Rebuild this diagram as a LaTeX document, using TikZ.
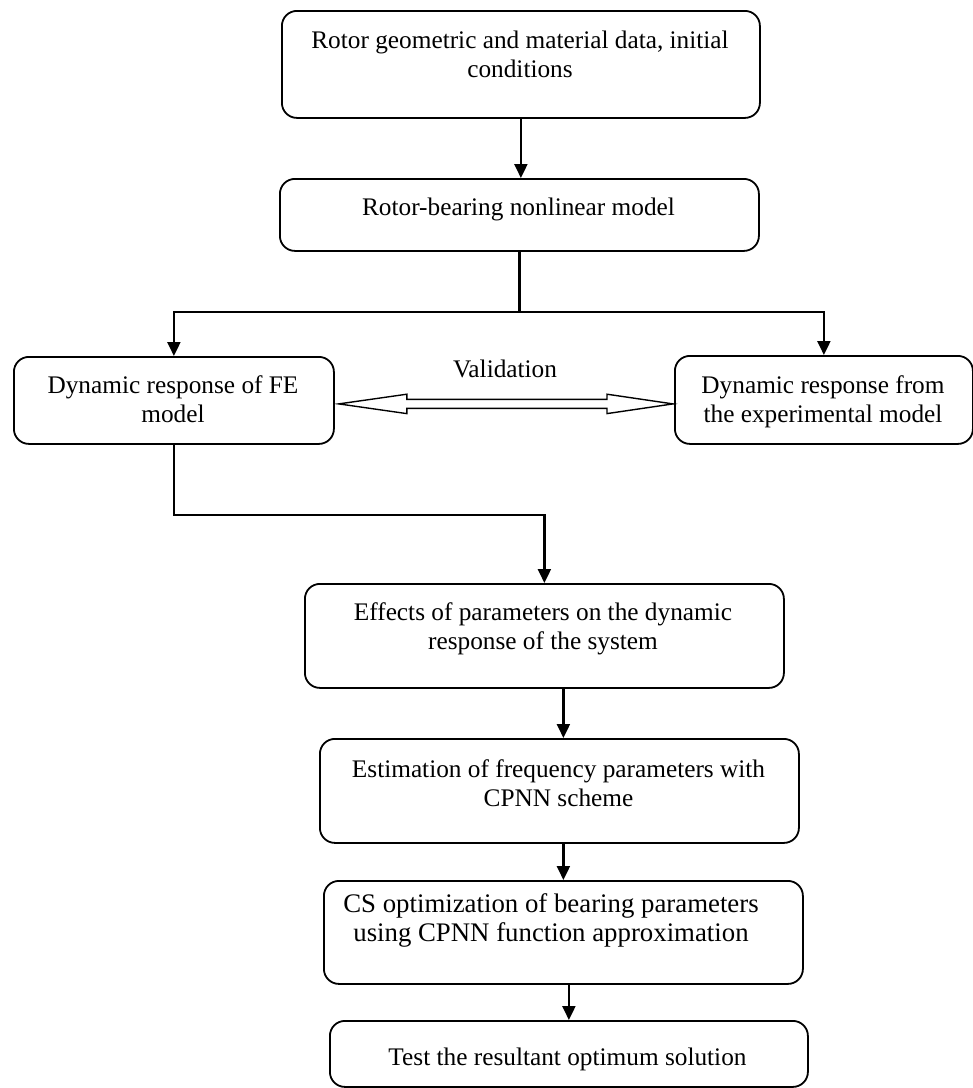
\documentclass[tikz,border=0pt]{standalone}
\usepackage{fontspec}
\setmainfont{Liberation Serif}
\usetikzlibrary{arrows.meta,calc}
\begin{document}
\begin{tikzpicture}[x=1pt,y=-1pt,
  box/.style={draw, line width=1.8pt, rounded corners=15pt, anchor=north west, inner sep=0pt},
  txt/.style={font=\fontsize{25.3}{29.5}\selectfont, align=center, inner sep=0pt, anchor=base},
  bigtxt/.style={txt, font=\fontsize{26.8}{29}\selectfont},
  arr/.style={line width=2.2pt, -{Triangle[length=14pt,width=13pt]}},
  conn/.style={line width=2.2pt}]
\useasboundingbox (0,0) rectangle (973,1088);
% boxes
\node[box, minimum width=478pt, minimum height=107pt] (b1) at (281,10) {};
\node[box, minimum width=479pt, minimum height=72pt] (b2) at (279,178) {};
\node[box, minimum width=320pt, minimum height=87pt] (b3) at (13,356) {};
\node[box, minimum width=298pt, minimum height=88pt] (b4) at (674,355) {};
\node[box, minimum width=479pt, minimum height=104pt] (b5) at (304,583) {};
\node[box, minimum width=479pt, minimum height=104pt] (b6) at (319,738) {};
\node[box, minimum width=479pt, minimum height=103pt] (b7) at (323,880) {};
\node[box, minimum width=478pt, minimum height=66pt] (b8) at (329,1020) {};
% texts (base anchor = baseline of the last line)
\node[txt] (t1) at (520,77.5) {Rotor geometric and material data, initial\\conditions};
\node[txt] (t2) at (518.5,215) {Rotor-bearing nonlinear model};
\node[txt] (t3) at (173,422.5) {Dynamic response of FE\\model};
\node[txt] (t4) at (823,422.5) {Dynamic response from\\the experimental model};
\node[txt] (tv) at (505,377) {Validation};
\node[txt] (t5) at (543,649.5) {Effects of parameters on the dynamic\\response of the system};
\node[txt] (t6) at (558.5,806.5) {Estimation of frequency parameters with\\CPNN scheme};
\node[bigtxt] (t7) at (551,941) {CS optimization of bearing parameters\\using CPNN function approximation};
\node[txt] (t8) at (567.5,1065) {Test the resultant optimum solution};
% connectors
\draw[arr] (b1.south) -- (b1.south |- b2.north);
\coordinate (s) at ($(b2.south)+(0,60)$);
\draw[conn] (b2.south) -- (s);
\draw[arr] (s) -| (b3.north);
\draw[arr] (s) -| (b4.north);
\draw[arr] (b3.south) -- ++(0,70) -| (b5.north);
\draw[arr] (b7.north |- b5.south) -- (b7.north |- b6.north);
\draw[arr] (b7.north |- b6.south) -- (b7.north);
\draw[arr] (b8.north |- b7.south) -- (b8.north);
% validation double arrow
\coordinate (vl) at ($(b3.east)+(4,3.5)$);
\coordinate (vr) at ($(b4.west)+(-1,4)$);
\draw[line width=1.4pt, line join=miter] (vl) -- ($(vl)+(68,-9.7)$) -- ($(vl)+(68,-4.5)$)
  -- ($(vr)+(-66,-4.5)$) -- ($(vr)+(-66,-9.7)$) -- (vr) -- ($(vr)+(-66,9.7)$)
  -- ($(vr)+(-66,4.5)$) -- ($(vl)+(68,4.5)$) -- ($(vl)+(68,9.7)$) -- cycle;
\end{tikzpicture}
\end{document}
